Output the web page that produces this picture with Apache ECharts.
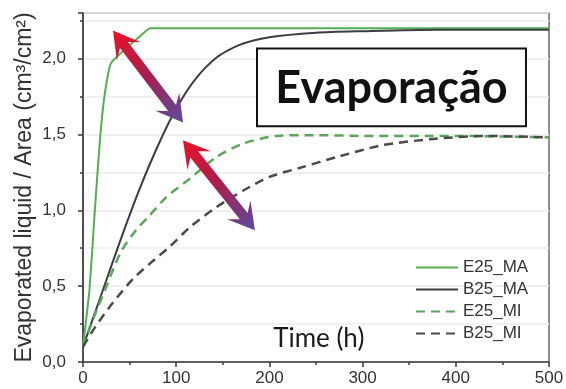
<!DOCTYPE html>
<html><head><meta charset="utf-8">
<script src="https://cdn.jsdelivr.net/npm/echarts/dist/echarts.min.js"></script>
<style>html,body{margin:0;padding:0;background:#fff}#c{width:566px;height:389px}</style>
</head><body><div id="c"></div>
<script>
// ---- data ----
const xTickLabels = ['0', '100', '200', '300', '400', '500'];
const yTickLabels = ['0,0', '0,5', '1,0', '1,5', '2,0'];
const seriesNames = ['E25_MA', 'B25_MA', 'E25_MI', 'B25_MI'];

const e25maTime  = [0, 7, 12.5, 18, 23, 30, 45, 60, 72, 100, 200, 300, 400, 500];
const e25maValue = [0.1, 0.48, 0.98, 1.45, 1.75, 1.97, 2.06, 2.14, 2.2, 2.2, 2.2, 2.2, 2.2, 2.2];

const b25maTime  = [0, 20, 40, 60, 80, 100, 120, 144, 168, 200, 250, 300, 380, 500];
const b25maValue = [0.1, 0.45, 0.8, 1.13, 1.42, 1.67, 1.86, 2.01, 2.09, 2.14, 2.17, 2.18, 2.19, 2.19];

const e25miTime  = [0, 12, 24, 33, 42, 57, 72, 90, 115, 143, 172, 208, 250, 300, 400, 500];
const e25miValue = [0.1, 0.3, 0.48, 0.62, 0.74, 0.87, 0.97, 1.09, 1.21, 1.35, 1.44, 1.49, 1.495, 1.49, 1.49, 1.48];

const b25miTime  = [0, 13, 32, 54, 72, 93, 115, 143, 172, 200, 233, 272, 322, 376, 430, 500];
const b25miValue = [0.1, 0.23, 0.39, 0.55, 0.65, 0.76, 0.89, 1.02, 1.13, 1.22, 1.28, 1.35, 1.43, 1.47, 1.49, 1.48];

const titleText = 'Evaporação';
const xAxisTitle = 'Time (h)';
const yAxisTitle = 'Evaporated liquid / Area (cm³/cm²)';

// annotation anchors in data space
const arrowPairs = [
  [[32.2, 2.184], [107.3, 1.579]],
  [[107.3, 1.461], [184.5, 0.868]]
];
const boxCorners = [[186.7, 2.066], [475.3, 1.553]];
const xTitleAnchor = [204, 0.151];

// ---- chart ----
const zip = (t, v) => t.map((x, i) => [x, v[i]]);
const GREEN = '#55ad55', DARK = '#3c3c44', GREEN_D = '#5aa65a', DARK_D = '#4a4a4a';

const chart = echarts.init(document.getElementById('c'), null, {renderer: 'canvas'});
const baseFont = 'Liberation Sans, Arial, sans-serif';

chart.setOption({
  animation: false,
  backgroundColor: '#fff',
  grid: {left: 83, right: 17, top: 13, bottom: 27, show: true, borderColor: '#6a6a6a', borderWidth: 1.5, backgroundColor: 'transparent', outerBoundsMode: 'none', containLabel: false},
  xAxis: {
    type: 'value', min: 0, max: 500, interval: 100,
    axisLine: {show: true, onZero: false, lineStyle: {color: '#3a3a3a', width: 1.5}},
    axisTick: {show: true, inside: false, length: 5, lineStyle: {color: '#3a3a3a', width: 1.5}},
    minorTick: {show: true, splitNumber: 2, length: 3, lineStyle: {color: '#3a3a3a', width: 1.5}},
    splitLine: {show: false},
    axisLabel: {margin: 8, color: '#333', fontSize: 17, fontFamily: baseFont,
      formatter: v => { const i = Math.round(v / 100); return Math.abs(v - i * 100) < 1e-6 ? (xTickLabels[i] || '') : ''; }}
  },
  yAxis: {
    type: 'value', min: 0, max: 2.3, interval: 0.5,
    axisLine: {show: true, onZero: false, lineStyle: {color: '#3a3a3a', width: 1.5}},
    axisTick: {show: true, inside: false, length: 5, lineStyle: {color: '#3a3a3a', width: 1.5}},
    minorTick: {show: true, splitNumber: 2, length: 3, lineStyle: {color: '#3a3a3a', width: 1.5}},
    splitLine: {show: true, lineStyle: {color: '#ebebeb', width: 1.5}},
    minorSplitLine: {show: true, lineStyle: {color: '#ebebeb', width: 1.5}},
    axisLabel: {margin: 17, color: '#333', fontSize: 17, fontFamily: baseFont, showMaxLabel: false,
      formatter: v => { const i = Math.round(v / 0.5); return Math.abs(v - i * 0.5) < 1e-6 ? (yTickLabels[i] || '') : ''; }}
  },
  legend: {
    orient: 'vertical', left: 415, top: 259, itemWidth: 42, itemHeight: 17, itemGap: 5, padding: 0,
    textStyle: {fontSize: 17, color: '#333', fontFamily: baseFont, padding: [0, 0, 0, 0]},
    itemStyle: {opacity: 0},
    data: seriesNames
  },
  series: [
    {name: seriesNames[0], type: 'line', data: zip(e25maTime, e25maValue), symbol: 'none', showSymbol: false, smooth: 0.15, lineStyle: {color: GREEN, width: 2}, itemStyle: {color: GREEN}, z: 3},
    {name: seriesNames[1], type: 'line', data: zip(b25maTime, b25maValue), symbol: 'none', showSymbol: false, smooth: 0.25, lineStyle: {color: DARK, width: 2}, itemStyle: {color: DARK}, z: 3},
    {name: seriesNames[2], type: 'line', data: zip(e25miTime, e25miValue), symbol: 'none', showSymbol: false, smooth: 0.25, lineStyle: {color: GREEN_D, width: 2.5, type: [9, 6]}, itemStyle: {color: GREEN_D}, z: 3},
    {name: seriesNames[3], type: 'line', data: zip(b25miTime, b25miValue), symbol: 'none', showSymbol: false, smooth: 0.25, lineStyle: {color: DARK_D, width: 2.5, type: [9, 6]}, itemStyle: {color: DARK_D}, z: 3}
  ]
});

function px(p) { return chart.convertToPixel({gridIndex: 0}, p); }

function arrowPts(a, b) {
  const dx = b[0] - a[0], dy = b[1] - a[1], L = Math.hypot(dx, dy);
  const ux = dx / L, uy = dy / L, vx = -uy, vy = ux;
  const hl = 26, hw = 30, nl = 18, sw = 10;
  const P = (u, v) => [a[0] + ux * u + vx * v, a[1] + uy * u + vy * v];
  return [P(0, 0), P(hl, hw / 2), P(nl, sw / 2), P(L - nl, sw / 2), P(L - hl, hw / 2), P(L, 0),
          P(L - hl, -hw / 2), P(L - nl, -sw / 2), P(nl, -sw / 2), P(hl, -hw / 2)];
}

const graphics = [];
const b0 = px(boxCorners[0]), b1 = px(boxCorners[1]);
graphics.push({type: 'rect', z: 10, shape: {x: b0[0], y: b0[1], width: b1[0] - b0[0], height: b1[1] - b0[1]},
  style: {fill: '#fff', stroke: '#111', lineWidth: 2}});
graphics.push({type: 'text', z: 11, x: (b0[0] + b1[0]) / 2, y: (b0[1] + b1[1]) / 2 + 1,
  style: {text: titleText, fill: '#111', font: 'bold 45px Lato, "Open Sans", sans-serif', align: 'center', verticalAlign: 'middle'}});
arrowPairs.forEach(([p, q]) => {
  const a = px(p), b = px(q);
  graphics.push({type: 'polygon', z: 12, shape: {points: arrowPts(a, b)},
    style: {fill: {type: 'linear', x: a[0], y: a[1], x2: b[0], y2: b[1], global: true,
      colorStops: [{offset: 0, color: '#ea1228'}, {offset: 0.5, color: '#a51f50'}, {offset: 1, color: '#5a4c9f'}]}}});
});
const xt = px(xTitleAnchor);
graphics.push({type: 'text', z: 11, x: xt[0], y: xt[1],
  style: {text: xAxisTitle, fill: '#1a1a1a', font: '26px Lato, "Open Sans", sans-serif', align: 'left', verticalAlign: 'middle'}});
const gTop = px([0, 2.3]), gBot = px([0, 0]);
graphics.push({type: 'text', z: 11, x: gTop[0] - 58, y: (gTop[1] + gBot[1]) / 2, rotation: Math.PI / 2,
  style: {text: yAxisTitle, fill: '#333', font: '23px "Liberation Sans", Arial, sans-serif', align: 'center', verticalAlign: 'middle'}});
chart.setOption({graphic: graphics});
</script>
</body></html>
